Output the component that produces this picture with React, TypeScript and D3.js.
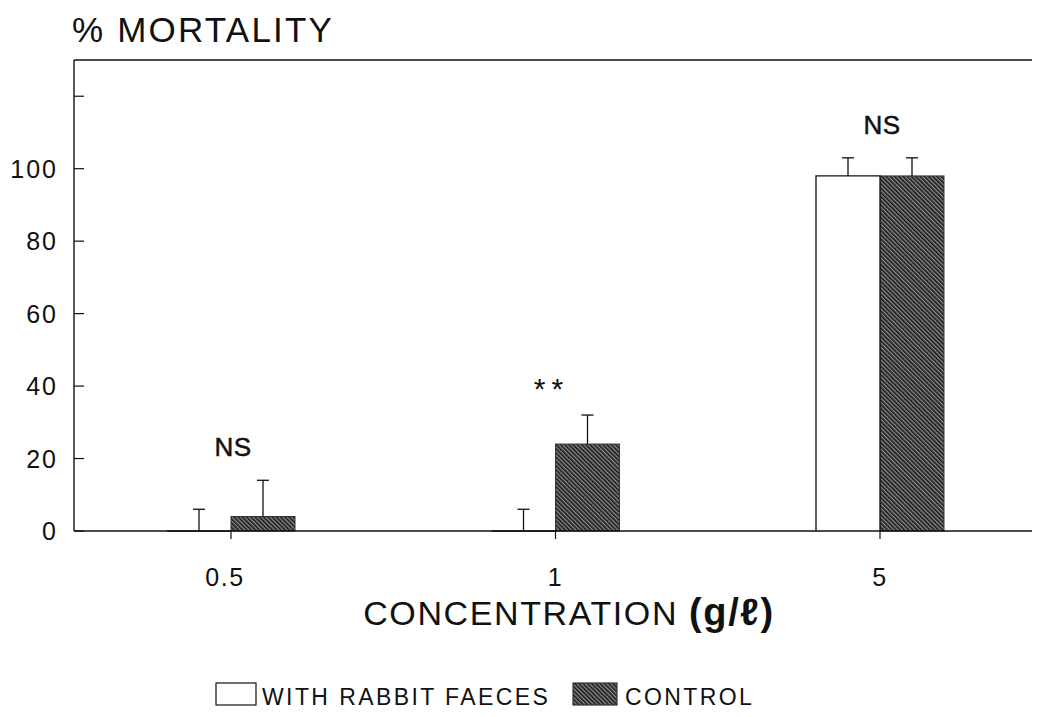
import React, { useEffect, useRef } from 'react';
import * as d3 from 'd3';

// concentrations (g/l)
const categories = ['0.5', '1', '5'];
const seriesNames = ['WITH RABBIT FAECES', 'CONTROL'];
const faecesValues = [0, 0, 98];
const faecesErrors = [6, 6, 5];
const controlValues = [4, 24, 98];
const controlErrors = [10, 8, 5];
const significance = ['NS', '**', 'NS'];
const yTicks = [0, 20, 40, 60, 80, 100];
const yMinorTicks = [120];

const FONT = '"Liberation Sans", Arial, Helvetica, sans-serif';

export default function App() {
  const ref = useRef<SVGSVGElement | null>(null);

  useEffect(() => {
    const width = 1040;
    const svg = d3.select(ref.current);
    svg.selectAll('*').remove();

    const defs = svg.append('defs');
    const pat = defs
      .append('pattern')
      .attr('id', 'hatch')
      .attr('patternUnits', 'userSpaceOnUse')
      .attr('width', 3)
      .attr('height', 3)
      .attr('patternTransform', 'rotate(-45)');
    pat.append('rect').attr('width', 3).attr('height', 3).attr('fill', '#8a8a8a');
    pat
      .append('line')
      .attr('x1', 0.8)
      .attr('y1', 0)
      .attr('x2', 0.8)
      .attr('y2', 3)
      .attr('stroke', '#1a1a1a')
      .attr('stroke-width', 1.7);

    const x = d3.scalePoint().domain(categories).range([231, 880]).padding(0);
    const barW = 64;
    const y = d3.scaleLinear().domain([0, 130]).range([531, 60]);

    const g = svg.append('g');

    // frame: left axis and top line
    g.append('line')
      .attr('x1', 74).attr('x2', 74)
      .attr('y1', y(130)).attr('y2', y(0))
      .attr('stroke', '#111').attr('stroke-width', 1.4);
    g.append('line')
      .attr('x1', 74).attr('x2', width)
      .attr('y1', y(130)).attr('y2', y(130))
      .attr('stroke', '#111').attr('stroke-width', 1.4);

    // y ticks inward
    const allTicks = yTicks.concat(yMinorTicks);
    g.selectAll('.ytick')
      .data(allTicks)
      .enter()
      .append('line')
      .attr('x1', 74).attr('x2', 84)
      .attr('y1', (d) => y(d)).attr('y2', (d) => y(d))
      .attr('stroke', '#111').attr('stroke-width', 1.2);
    g.selectAll('.ylab')
      .data(yTicks)
      .enter()
      .append('text')
      .attr('x', 58)
      .attr('y', (d) => y(d))
      .attr('dy', '0.36em')
      .attr('text-anchor', 'end')
      .attr('font-family', FONT)
      .attr('font-size', 25)
      .attr('letter-spacing', 2)
      .attr('fill', '#111')
      .text((d) => d);

    // title
    g.append('text')
      .attr('x', 72).attr('y', 42)
      .attr('font-family', FONT)
      .attr('font-size', 35)
      .attr('letter-spacing', 2.2)
      .attr('fill', '#111')
      .text('% MORTALITY');

    // control bars (hatched)
    g.selectAll('.ctrl')
      .data(categories)
      .enter()
      .append('rect')
      .attr('x', (d) => x(d)!)
      .attr('y', (d, i) => y(controlValues[i]))
      .attr('width', barW)
      .attr('height', (d, i) => y(0) - y(controlValues[i]))
      .attr('fill', 'url(#hatch)')
      .attr('stroke', '#333')
      .attr('stroke-width', 1);

    // faeces bars (white, outlined)
    g.selectAll('.faec')
      .data(categories)
      .enter()
      .append('path')
      .attr('d', (d, i) => {
        const x0 = x(d)! - barW,
          x1 = x(d)!,
          yt = y(faecesValues[i]);
        return `M${x0},${y(0)}V${yt}H${x1}V${y(0)}`;
      })
      .attr('fill', '#fff')
      .attr('stroke', '#111')
      .attr('stroke-width', 1.3);

    // x axis baseline
    g.append('line')
      .attr('x1', 74).attr('x2', width)
      .attr('y1', y(0)).attr('y2', y(0))
      .attr('stroke', '#111').attr('stroke-width', 1.4);

    // x ticks and labels
    g.selectAll('.xtick')
      .data(categories)
      .enter()
      .append('line')
      .attr('x1', (d) => x(d)!).attr('x2', (d) => x(d)!)
      .attr('y1', y(0)).attr('y2', y(0) + 8)
      .attr('stroke', '#111').attr('stroke-width', 1.2);
    g.selectAll('.xlab')
      .data(categories)
      .enter()
      .append('text')
      .attr('x', (d) => x(d)! - (d === '0.5' ? 6 : 0))
      .attr('y', 586)
      .attr('text-anchor', 'middle')
      .attr('font-family', FONT)
      .attr('font-size', 25)
      .attr('letter-spacing', 1.5)
      .attr('fill', '#111')
      .text((d) => d);

    // error bars
    const errs = [
      ...categories.map((c, i) => ({ cx: x(c)! - barW / 2, v: faecesValues[i], e: faecesErrors[i] })),
      ...categories.map((c, i) => ({ cx: x(c)! + barW / 2, v: controlValues[i], e: controlErrors[i] })),
    ];
    const eg = g.selectAll('.err').data(errs).enter().append('g');
    eg.append('line')
      .attr('x1', (d) => d.cx).attr('x2', (d) => d.cx)
      .attr('y1', (d) => y(d.v)).attr('y2', (d) => y(d.v + d.e))
      .attr('stroke', '#111').attr('stroke-width', 1.3);
    eg.append('line')
      .attr('x1', (d) => d.cx - 6).attr('x2', (d) => d.cx + 6)
      .attr('y1', (d) => y(d.v + d.e)).attr('y2', (d) => y(d.v + d.e))
      .attr('stroke', '#111').attr('stroke-width', 1.3);

    // significance marks
    g.selectAll('.sig')
      .data(categories)
      .enter()
      .append('text')
      .attr('x', (d) => x(d)! + (significance[d === '1' ? 1 : 0] === '**' ? -4 : 2))
      .attr('y', (d, i) => y(Math.max(faecesValues[i] + faecesErrors[i], controlValues[i] + controlErrors[i])) - (significance[i] === '**' ? 16 : 24))
      .attr('text-anchor', 'middle')
      .attr('font-family', FONT)
      .attr('font-size', (d, i) => (significance[i] === '**' ? 30 : 26))
      .attr('letter-spacing', (d, i) => (significance[i] === '**' ? 6 : 0.5))
      .attr('fill', '#111')
      .attr('stroke', '#111')
      .attr('stroke-width', (d, i) => (significance[i] === '**' ? 0 : 0.5))
      .text((d, i) => significance[i]);

    // x axis title
    const xt = g.append('text')
      .attr('x', 569).attr('y', 625)
      .attr('text-anchor', 'middle')
      .attr('font-family', FONT)
      .attr('font-size', 34)
      .attr('letter-spacing', 1.6)
      .attr('fill', '#111');
    xt.append('tspan').text('CONCENTRATION ');
    xt.append('tspan').attr('font-size', 38).attr('font-weight', 'bold').text('(g/ℓ)');

    // legend
    const legendX = [216, 573];
    const lg = g.selectAll('.leg').data(seriesNames).enter().append('g')
      .attr('transform', (d, i) => `translate(${legendX[i]},683)`);
    lg.append('rect')
      .attr('width', (d, i) => (i === 0 ? 40 : 44))
      .attr('height', 22)
      .attr('fill', (d, i) => (i === 0 ? '#fff' : 'url(#hatch)'))
      .attr('stroke', (d, i) => (i === 0 ? '#111' : '#333'))
      .attr('stroke-width', 1.2);
    lg.append('text')
      .attr('x', (d, i) => (i === 0 ? 46 : 52))
      .attr('y', 22)
      .attr('font-family', FONT)
      .attr('font-size', 23)
      .attr('letter-spacing', 2.4)
      .attr('fill', '#111')
      .text((d) => d);
  }, []);

  return (
    <div style={{ margin: -8 }}>
      <svg ref={ref} width={1040} height={717} style={{ display: 'block', background: '#fff' }} />
    </div>
  );
}
